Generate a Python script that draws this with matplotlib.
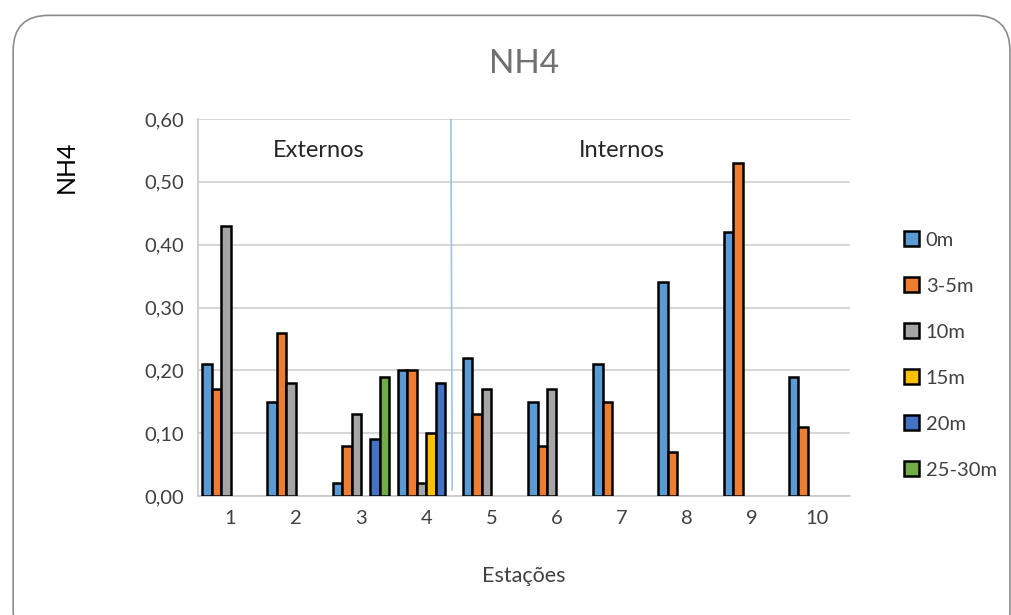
import numpy as np
import matplotlib.pyplot as plt
from matplotlib.patches import FancyBboxPatch

plt.rcParams['font.family'] = ['Lato', 'DejaVu Sans']

# Dados
estacoes = ['1', '2', '3', '4', '5', '6', '7', '8', '9', '10']
profundidades = ['0m', '3-5m', '10m', '15m', '20m', '25-30m']
nan = np.nan
v_0m = [0.21, 0.15, 0.02, 0.20, 0.22, 0.15, 0.21, 0.34, 0.42, 0.19]
v_3_5m = [0.17, 0.26, 0.08, 0.20, 0.13, 0.08, 0.15, 0.07, 0.53, 0.11]
v_10m = [0.43, 0.18, 0.13, 0.02, 0.17, 0.17, nan, nan, nan, nan]
v_15m = [nan, nan, nan, 0.10, nan, nan, nan, nan, nan, nan]
v_20m = [nan, nan, 0.09, 0.18, nan, nan, nan, nan, nan, nan]
v_25_30m = [nan, nan, 0.19, nan, nan, nan, nan, nan, nan, nan]
series = [v_0m, v_3_5m, v_10m, v_15m, v_20m, v_25_30m]
cores = ['#5B9BD5', '#ED7D31', '#A5A5A5', '#FFC000', '#4472C4', '#70AD47']
yticks = [0.0, 0.1, 0.2, 0.3, 0.4, 0.5, 0.6]
ytick_labels = ['0,00', '0,10', '0,20', '0,30', '0,40', '0,50', '0,60']

fig = plt.figure(figsize=(10.12, 6.15), dpi=100)
ax = fig.add_axes([0.1957, 0.1935, 0.644, 0.613])

# moldura arredondada
moldura = FancyBboxPatch((0.013, -0.05), 0.985, 1.025, boxstyle='round,pad=0,rounding_size=0.035',
                         transform=fig.transFigure, facecolor='white', edgecolor='#8c8c8c',
                         linewidth=1.2, zorder=-10, mutation_aspect=1012 / 615)
fig.patches.append(moldura)

x = np.arange(1, len(estacoes) + 1)
largura = 0.145
for i, (vals, cor, nome) in enumerate(zip(series, cores, profundidades)):
    ax.bar(x + (i - 2.5) * largura, vals, largura, color=cor, edgecolor='black',
           linewidth=1.8, label=nome, zorder=3)

ax.set_xlim(0.5, 10.5)
ax.set_ylim(0, 0.6)
ax.set_yticks(yticks)
ax.set_yticklabels(ytick_labels)
ax.set_xticks(x)
ax.set_xticklabels(estacoes)
ax.tick_params(axis='both', length=0, labelsize=14.5, colors='#404040')
ax.tick_params(axis='y', pad=10)
ax.tick_params(axis='x', pad=10)
ax.grid(axis='y', color='#d0d0d0', linewidth=1.2, zorder=0)
for s in ['top', 'right']:
    ax.spines[s].set_visible(False)
ax.spines['left'].set_color('#c8c8c8')
ax.spines['bottom'].set_color('#c8c8c8')
ax.spines['left'].set_linewidth(1.2)
ax.spines['bottom'].set_linewidth(1.2)

# separador externos / internos
ax.plot([4.38, 4.40], [0.6, 0.01], color='#9DC3E6', linewidth=1.2, zorder=4)
ax.text(2.35, 0.55, 'Externos', ha='center', va='center', fontsize=17, color='#262626')
ax.text(7.0, 0.55, 'Internos', ha='center', va='center', fontsize=17, color='#262626')

ax.set_title('NH4', fontsize=24, color='#707070', pad=33)
ax.set_ylabel('NH4', fontsize=18, color='black')
ax.yaxis.set_label_coords(-0.185, 0.873)
ax.set_xlabel('Estações', fontsize=15.5, color='#404040', labelpad=28)

fig.legend(loc='center left', bbox_to_anchor=(0.875, 0.423), frameon=False, fontsize=14.5,
           labelspacing=1.42, handlelength=0.75, handleheight=0.75, handletextpad=0.35,
           labelcolor='#404040')

fig.savefig('out.png', dpi=100)
